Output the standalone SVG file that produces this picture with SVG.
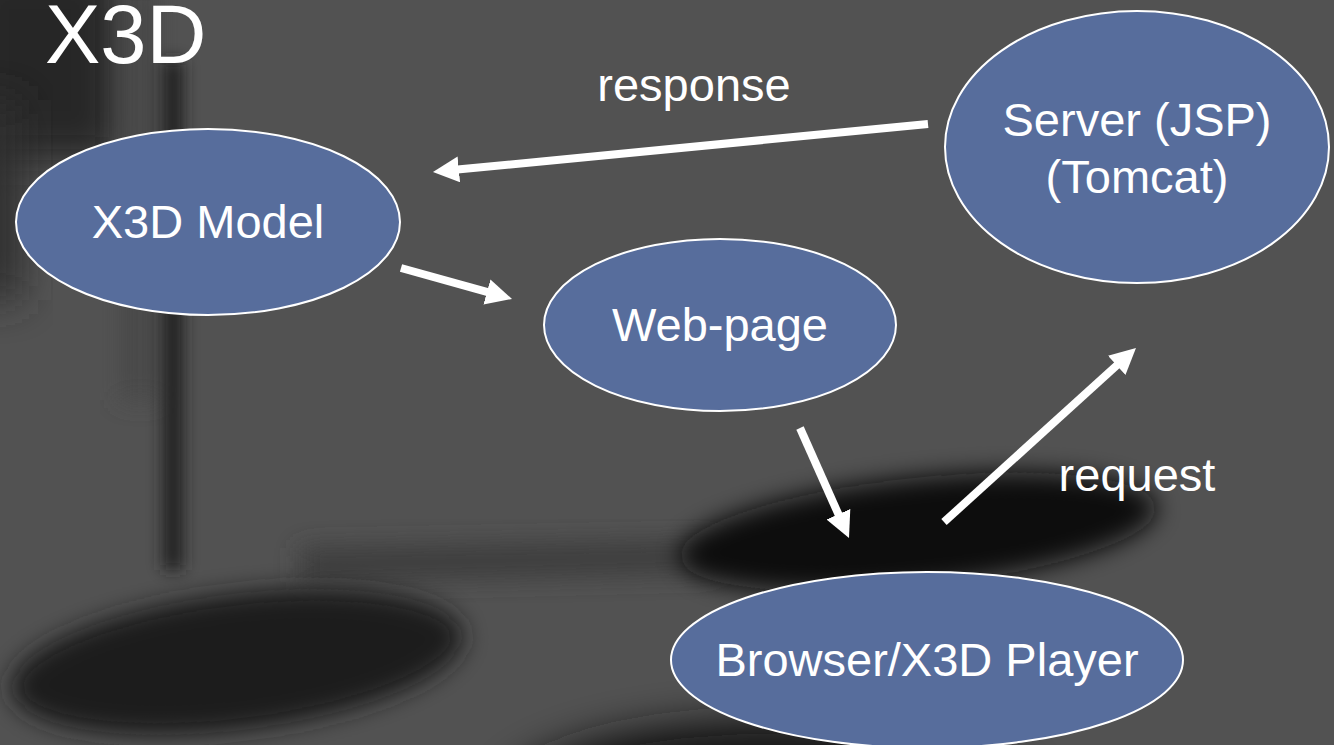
<svg xmlns="http://www.w3.org/2000/svg" width="1334" height="745" viewBox="0 0 1334 745">
  <style>
    .node ellipse { fill: #576d9c; stroke: #ffffff; stroke-width: 2; }
    .label { font-family: "Liberation Sans", Arial, sans-serif; fill: #ffffff; font-size: 47px; text-anchor: middle; }
    .title { font-family: "Liberation Sans", Arial, sans-serif; fill: #ffffff; font-size: 83px; }
    .edge { stroke: #ffffff; stroke-width: 8; fill: none; marker-end: url(#head); }
  </style>
  <defs>
    <marker id="head" markerUnits="userSpaceOnUse" markerWidth="28" markerHeight="28" refX="12" refY="13" orient="auto">
      <path d="M0,0 L26,13 L0,26 z" fill="#ffffff"/>
    </marker>
    <filter id="soft" x="-50%" y="-50%" width="200%" height="200%">
      <feGaussianBlur stdDeviation="12"/>
    </filter>
    <filter id="softer" x="-50%" y="-50%" width="200%" height="200%">
      <feGaussianBlur stdDeviation="20"/>
    </filter>
    <filter id="pole" x="-300%" y="-20%" width="700%" height="140%">
      <feGaussianBlur stdDeviation="8"/>
    </filter>
  </defs>

  <!-- backdrop: grey floor with lamp shadows -->
  <g id="backdrop">
    <rect x="0" y="0" width="1334" height="745" fill="#525252"/>
    <rect x="-40" y="-40" width="160" height="200" fill="#262626" filter="url(#softer)"/>
    <rect x="-40" y="100" width="62" height="200" fill="#2e2e2e" filter="url(#softer)"/>
    <rect x="120" y="-20" width="40" height="420" fill="#484848" filter="url(#soft)"/>
    <rect x="163" y="60" width="20" height="510" fill="#232323" filter="url(#pole)"/>
    <path d="M300,548 L720,540 L720,572 L300,582 z" fill="#3c3c3c" filter="url(#soft)"/>
    <ellipse cx="237" cy="662" rx="228" ry="68" transform="rotate(-7 237 662)" fill="#1a1a1a" filter="url(#soft)"/>
    <ellipse cx="918" cy="532" rx="240" ry="54" transform="rotate(-6 918 532)" fill="#0c0c0c" filter="url(#soft)"/>
    <ellipse cx="770" cy="805" rx="270" ry="85" fill="#171717" filter="url(#softer)"/>
  </g>

  <text class="title" x="45" y="63">X3D</text>

  <g id="connectors">
    <line class="edge" x1="928" y1="124" x2="446.9" y2="170.6"/>
    <line class="edge" x1="401" y1="268" x2="498.5" y2="295.2"/>
    <line class="edge" x1="800" y1="428" x2="843.3" y2="525.2"/>
    <line class="edge" x1="944" y1="522" x2="1125.6" y2="357.4"/>
    <text class="label" x="694" y="101">response</text>
    <text class="label" x="1137" y="491">request</text>
  </g>

  <g id="node-x3d-model" class="node">
    <ellipse cx="208" cy="222" rx="192" ry="93"/>
    <text class="label" x="208" y="238">X3D Model</text>
  </g>

  <g id="node-web-page" class="node">
    <ellipse cx="720" cy="325" rx="176" ry="86"/>
    <text class="label" x="720" y="341">Web-page</text>
  </g>

  <g id="node-server" class="node">
    <ellipse cx="1137" cy="147" rx="192" ry="136"/>
    <text class="label" x="1137" y="136">Server (JSP)</text>
    <text class="label" x="1137" y="193">(Tomcat)</text>
  </g>

  <g id="node-browser" class="node">
    <ellipse cx="927" cy="660" rx="256" ry="88"/>
    <text class="label" x="927" y="676">Browser/X3D Player</text>
  </g>
</svg>
